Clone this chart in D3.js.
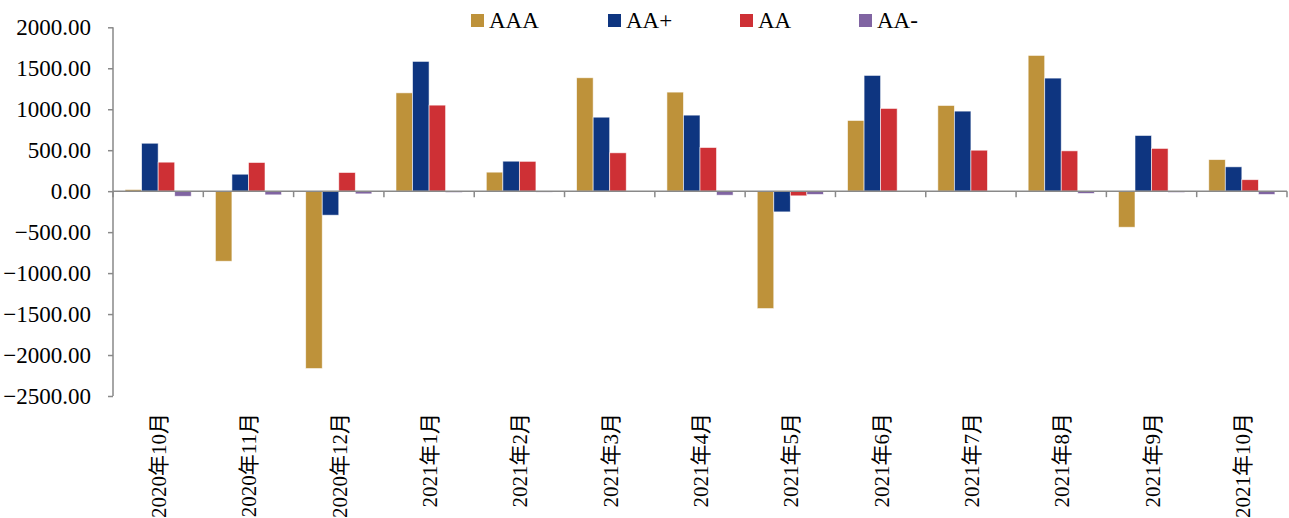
<!DOCTYPE html>
<html>
<head>
<meta charset="utf-8">
<script src="https://cdn.jsdelivr.net/npm/d3@7/dist/d3.min.js"></script>
<style>
  html, body { margin: 0; padding: 0; background: #fff; }
  svg { display: block; font-family: "Liberation Serif", "Times New Roman", "Noto Sans CJK SC", serif; }
</style>
</head>
<body>
<svg id="chart" width="1289" height="518"></svg>
<script>
// Monthly net financing by rating grade
const months = ["2020年10月", "2020年11月", "2020年12月", "2021年1月", "2021年2月", "2021年3月",
                "2021年4月", "2021年5月", "2021年6月", "2021年7月", "2021年8月", "2021年9月", "2021年10月"];
const seriesNames = ["AAA", "AA+", "AA", "AA-"];
const aaa   = [20, -855, -2165, 1200, 232, 1384, 1209, -1433, 863, 1046, 1657, -440, 385];
const aaPlus = [585, 207, -293, 1584, 366, 903, 928, -253, 1413, 977, 1380, 680, 297];
const aa    = [354, 350, 228, 1050, 364, 468, 533, -57, 1010, 500, 492, 522, 140];
const aaMinus = [-62, -45, -33, -16, -12, -10, -49, -40, -6, -9, -28, -16, -40];
const yTicks = [2000, 1500, 1000, 500, 0, -500, -1000, -1500, -2000, -2500];
const colors = ["#BE923A", "#0E3580", "#CE3035", "#8064A2"];

const seriesValues = [aaa, aaPlus, aa, aaMinus];

const svg = d3.select("#chart");
const plotLeft = 113, plotRight = 1287, plotTop = 27.3, plotBottom = 396;

const x = d3.scaleBand().domain(months).range([plotLeft, plotRight]).paddingInner(0).paddingOuter(0);
const xs = d3.scaleBand().domain(seriesNames).range([0, x.bandwidth()]).paddingInner(0).paddingOuter(0.73);
const y = d3.scaleLinear().domain([-2500, 2000]).range([plotBottom, plotTop]);

// bars
const rows = [];
months.forEach((m, i) => {
  seriesNames.forEach((s, j) => rows.push({ m, s, v: seriesValues[j][i], c: colors[j] }));
});
svg.append("g").selectAll("rect").data(rows).join("rect")
  .attr("x", d => x(d.m) + xs(d.s))
  .attr("width", xs.bandwidth())
  .attr("y", d => y(Math.max(0, d.v)))
  .attr("height", d => Math.abs(y(d.v) - y(0)))
  .attr("fill", d => d.c)
  .attr("stroke", "rgba(255,255,255,0.7)")
  .attr("stroke-width", 0.8);

// y axis
const yAxis = svg.append("g").attr("transform", `translate(${plotLeft},0)`)
  .call(d3.axisLeft(y).tickValues(yTicks).tickFormat(d3.format(".2f")).tickSize(5).tickPadding(17));
yAxis.select(".domain").attr("stroke", "#898989").attr("stroke-width", 1.5).attr("d", `M0,${plotTop}V${plotBottom}`);
yAxis.selectAll(".tick line").attr("stroke", "#898989").attr("stroke-width", 1.5);
yAxis.selectAll(".tick text").attr("font-size", 23).attr("fill", "#000")
  .attr("font-family", "Liberation Serif, serif");

// x axis along zero
const xg = svg.append("g");
xg.append("line").attr("x1", plotLeft).attr("x2", plotRight).attr("y1", y(0)).attr("y2", y(0))
  .attr("stroke", "#898989").attr("stroke-width", 1.5);
const bounds = months.map(m => x(m)).concat([plotRight]);
xg.selectAll("line.tk").data(bounds).join("line").attr("class", "tk")
  .attr("x1", d => d).attr("x2", d => d).attr("y1", y(0)).attr("y2", y(0) + 6)
  .attr("stroke", "#898989").attr("stroke-width", 1.5);

// category labels, rotated
svg.append("g").selectAll("text").data(months).join("text")
  .attr("transform", d => `translate(${x(d) + x.bandwidth() / 2 + 1},413) rotate(-90)`)
  .attr("text-anchor", "end")
  .attr("dominant-baseline", "central")
  .attr("font-size", 21)
  .attr("fill", "#000")
  .text(d => d);

// legend
const legendX = [471, 608, 740, 859];
const lg = svg.append("g");
seriesNames.forEach((s, j) => {
  lg.append("rect").attr("x", legendX[j]).attr("y", 14).attr("width", 13).attr("height", 13).attr("fill", colors[j]);
  lg.append("text").attr("x", legendX[j] + 18).attr("y", 27.5).attr("font-size", 23).attr("fill", "#000").text(s);
});
</script>
</body>
</html>
